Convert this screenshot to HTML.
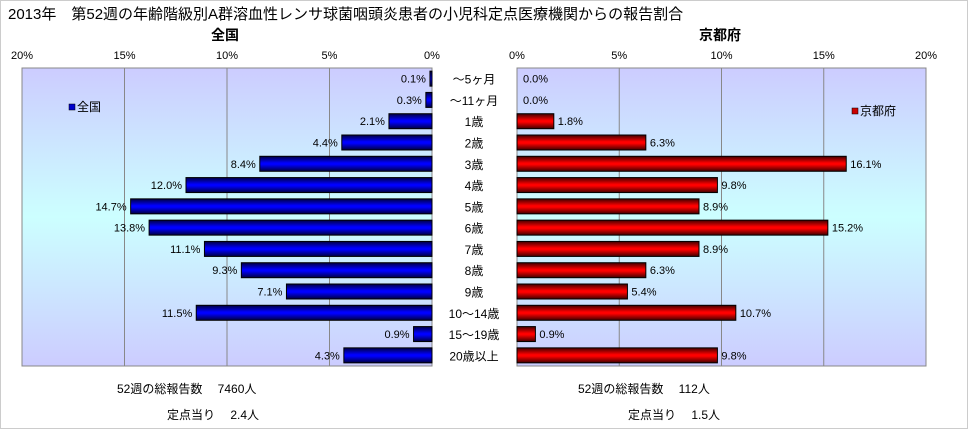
<!DOCTYPE html>
<html><head><meta charset="utf-8"><style>
body{margin:0;background:#fff;}
svg text{font-family:"Liberation Sans","Noto Sans CJK JP",sans-serif;}
</style></head><body>
<svg id="c" width="968" height="429" xmlns="http://www.w3.org/2000/svg">
<defs>
<linearGradient id="bg" x1="0" y1="0" x2="0" y2="1">
<stop offset="0" stop-color="#ccccff"/><stop offset="0.5" stop-color="#ccffff"/><stop offset="1" stop-color="#ccccff"/>
</linearGradient>
<linearGradient id="gb" x1="0" y1="0" x2="0" y2="1">
<stop offset="0" stop-color="#000040"/><stop offset="0.45" stop-color="#0000ff"/><stop offset="0.55" stop-color="#0000ff"/><stop offset="1" stop-color="#000040"/>
</linearGradient>
<linearGradient id="gr" x1="0" y1="0" x2="0" y2="1">
<stop offset="0" stop-color="#400000"/><stop offset="0.45" stop-color="#ff0000"/><stop offset="0.55" stop-color="#ff0000"/><stop offset="1" stop-color="#400000"/>
</linearGradient>
</defs>
<rect x="0.5" y="0.5" width="967" height="428" fill="#fff" stroke="#ccc"/>
<text x="8" y="19" font-size="15">2013年　第52週の年齢階級別A群溶血性レンサ球菌咽頭炎患者の小児科定点医療機関からの報告割合</text>
<text x="225" y="40" font-size="14" font-weight="bold" text-anchor="middle">全国</text>
<text x="720" y="40" font-size="14" font-weight="bold" text-anchor="middle">京都府</text>
<rect x="22" y="68" width="410" height="298" fill="url(#bg)" stroke="#888"/>
<rect x="517" y="68" width="409" height="298" fill="url(#bg)" stroke="#888"/>
<g id="g"></g>
<rect x="69" y="104" width="6" height="6" fill="#0000cc" stroke="#000" stroke-width="0.5"/>
<text x="77" y="111" font-size="12">全国</text>
<rect x="852" y="108" width="6" height="6" fill="#cc0000" stroke="#000" stroke-width="0.5"/>
<text x="860" y="115" font-size="12">京都府</text>
<text x="117" y="393" font-size="12">52週の総報告数　 7460人</text>
<text x="167" y="419" font-size="12">定点当り　 2.4人</text>
<text x="578" y="393" font-size="12">52週の総報告数　 112人</text>
<text x="628" y="419" font-size="12">定点当り　 1.5人</text>
</svg>
<script>
const categories=["～5ヶ月","～11ヶ月","1歳","2歳","3歳","4歳","5歳","6歳","7歳","8歳","9歳","10～14歳","15～19歳","20歳以上"];
const nationalValues=[0.1,0.3,2.1,4.4,8.4,12.0,14.7,13.8,11.1,9.3,7.1,11.5,0.9,4.3];
const kyotoValues=[0.0,0.0,1.8,6.3,16.1,9.8,8.9,15.2,8.9,6.3,5.4,10.7,0.9,9.8];
const tickValues=[0,5,10,15,20];
const NS="http://www.w3.org/2000/svg";
const g=document.getElementById('g');
const top0=68,bottom0=366,rowH=(bottom0-top0)/categories.length;
const xL=v=>432-v*20.5, xR=v=>517+v*20.45;
function mk(t,a){const e=document.createElementNS(NS,t);for(const k in a)e.setAttribute(k,a[k]);g.appendChild(e);return e;}
tickValues.forEach(t=>{
 if(t>0&&t<20){
  let l=mk('line',{x1:xL(t),x2:xL(t),y1:top0,y2:bottom0,stroke:'#888'});
  
  
  let r=mk('line',{x1:xR(t),x2:xR(t),y1:top0,y2:bottom0,stroke:'#888'});
  
  
 }
 let a=mk('text',{x:xL(t),y:59,'font-size':11,'text-anchor':'middle'});a.textContent=t+'%';
 
 
 let b=mk('text',{x:xR(t),y:59,'font-size':11,'text-anchor':'middle'});b.textContent=t+'%';
 
 
});
categories.forEach((c,i)=>{
 const cy=top0+rowH*(i+0.5);
 let lab=mk('text',{x:474,y:cy+5,'font-size':12,'text-anchor':'middle'});lab.textContent=c;
 
 
 const v=nationalValues[i];
 let b=mk('rect',{x:xL(v),y:cy-7.5,width:xL(0)-xL(v),height:15,fill:'url(#gb)',stroke:'#000','stroke-width':1});
 
 
 let t=mk('text',{x:xL(v)-4,y:cy+4,'font-size':11,'text-anchor':'end'});t.textContent=v.toFixed(1)+'%';
 
 
 const k=kyotoValues[i];
 if(k>0){let r=mk('rect',{x:xR(0),y:cy-7.5,width:xR(k)-xR(0),height:15,fill:'url(#gr)',stroke:'#000','stroke-width':1});
 
 }
 let u=mk('text',{x:xR(k)+(k>0?4:6),y:cy+4,'font-size':11});u.textContent=k.toFixed(1)+'%';
 
 
});
</script>
</body></html>
